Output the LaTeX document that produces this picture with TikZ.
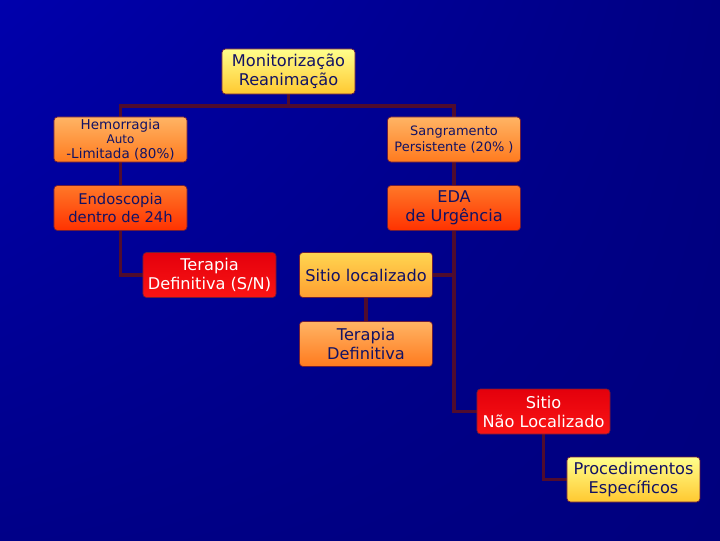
\documentclass[tikz,border=0pt]{standalone}
\usepackage{fontspec}
\setmainfont{DejaVu Sans}
\usepackage{tikz}
\usetikzlibrary{backgrounds,shadings}
\definecolor{bgtl}{RGB}{0,0,172}
\definecolor{bgtr}{RGB}{0,0,130}
\definecolor{bgbl}{RGB}{0,0,136}
\definecolor{bgbr}{RGB}{0,0,126}
\definecolor{ink}{RGB}{18,18,100}
\definecolor{wire}{RGB}{80,12,46}
\definecolor{rim}{RGB}{110,30,60}
\tikzset{every node/.append style={scale=1}}

\begin{document}
\begin{tikzpicture}[x=0.025cm, y=-0.025cm,
    box/.style={draw=rim, line width=0.5pt, rounded corners=2.5pt,
        minimum width=3.325cm, minimum height=1.125cm, inner sep=1pt,
        align=center, text=ink, font=\fontsize{11.5}{13.5}\selectfont},
    yellowbox/.style={box, top color=yellow!45!white, bottom color={rgb,255:red,255;green,200;blue,48}},
    amberbox/.style={box, top color={rgb,255:red,255;green,214;blue,80}, bottom color={rgb,255:red,255;green,158;blue,48}},
    orangebox/.style={box, top color={rgb,255:red,255;green,180;blue,100}, bottom color={rgb,255:red,255;green,122;blue,30}},
    fireobox/.style={box, top color={rgb,255:red,255;green,120;blue,40}, bottom color={rgb,255:red,255;green,50;blue,0}},
    redbox/.style={box, text=white, top color={rgb,255:red,228;green,0;blue,12}, bottom color={rgb,255:red,250;green,20;blue,20}},
    link/.style={draw=wire, line width=2.6pt}]
    \useasboundingbox (0,0) rectangle (720,540);
    % the boxes
    \node[yellowbox] (monit) at (288.5,71.5) {Monitorização\\Reanimação};
    \node[orangebox, inner sep=0pt, font=\fontsize{9.6}{10.6}\selectfont] (hemor) at (120.5,139.5)
        {Hemorragia\\[-0.5pt]{\fontsize{8.5}{10}\selectfont Auto}\\-Limitada (80\%)};
    \node[orangebox, font=\fontsize{9.2}{11.5}\selectfont] (sangr) at (454,139.5)
        {Sangramento\\Persistente (20\% )};
    \node[fireobox, font=\fontsize{10.5}{12.5}\selectfont] (endo) at (120.5,208) {Endoscopia\\dentro de 24h};
    \node[fireobox] (eda) at (454,208) {EDA\\de Urgência};
    \node[redbox] (terapSN) at (209.5,275) {Terapia\\Definitiva (S/N)};
    \node[amberbox] (sitioloc) at (366,275) {Sitio localizado};
    \node[orangebox] (terapdef) at (366,344) {Terapia\\Definitiva};
    \node[redbox] (sitionao) at (543.5,411.5) {Sitio\\Não Localizado};
    \node[yellowbox] (proced) at (633.5,479.5) {Procedimentos\\Específicos};
    \coordinate (split) at (288.5,106);% where the tree forks
    \begin{scope}[on background layer]
        \shade[upper left=bgtl, upper right=bgtr, lower left=bgbl, lower right=bgbr]
            (0,0) rectangle (720,540);% the slide
        \draw[link] (monit.south) -- (split);
        \draw[link] (hemor.north) |- (split) -| (sangr.north);
        \draw[link] (hemor) -- (endo);% left branch
        \draw[link] (sangr) -- (eda);% right branch
        \draw[link] (endo.south) |- (terapSN.west);
        \draw[link] (eda.south) |- (sitionao.west);
        \draw[link] (sitioloc.east) -- (sitioloc.east -| eda.south);
        \draw[link] (sitioloc) -- (terapdef);
        \draw[link] (sitionao.south) |- (proced.west);
    \end{scope}
\end{tikzpicture}
\end{document}
